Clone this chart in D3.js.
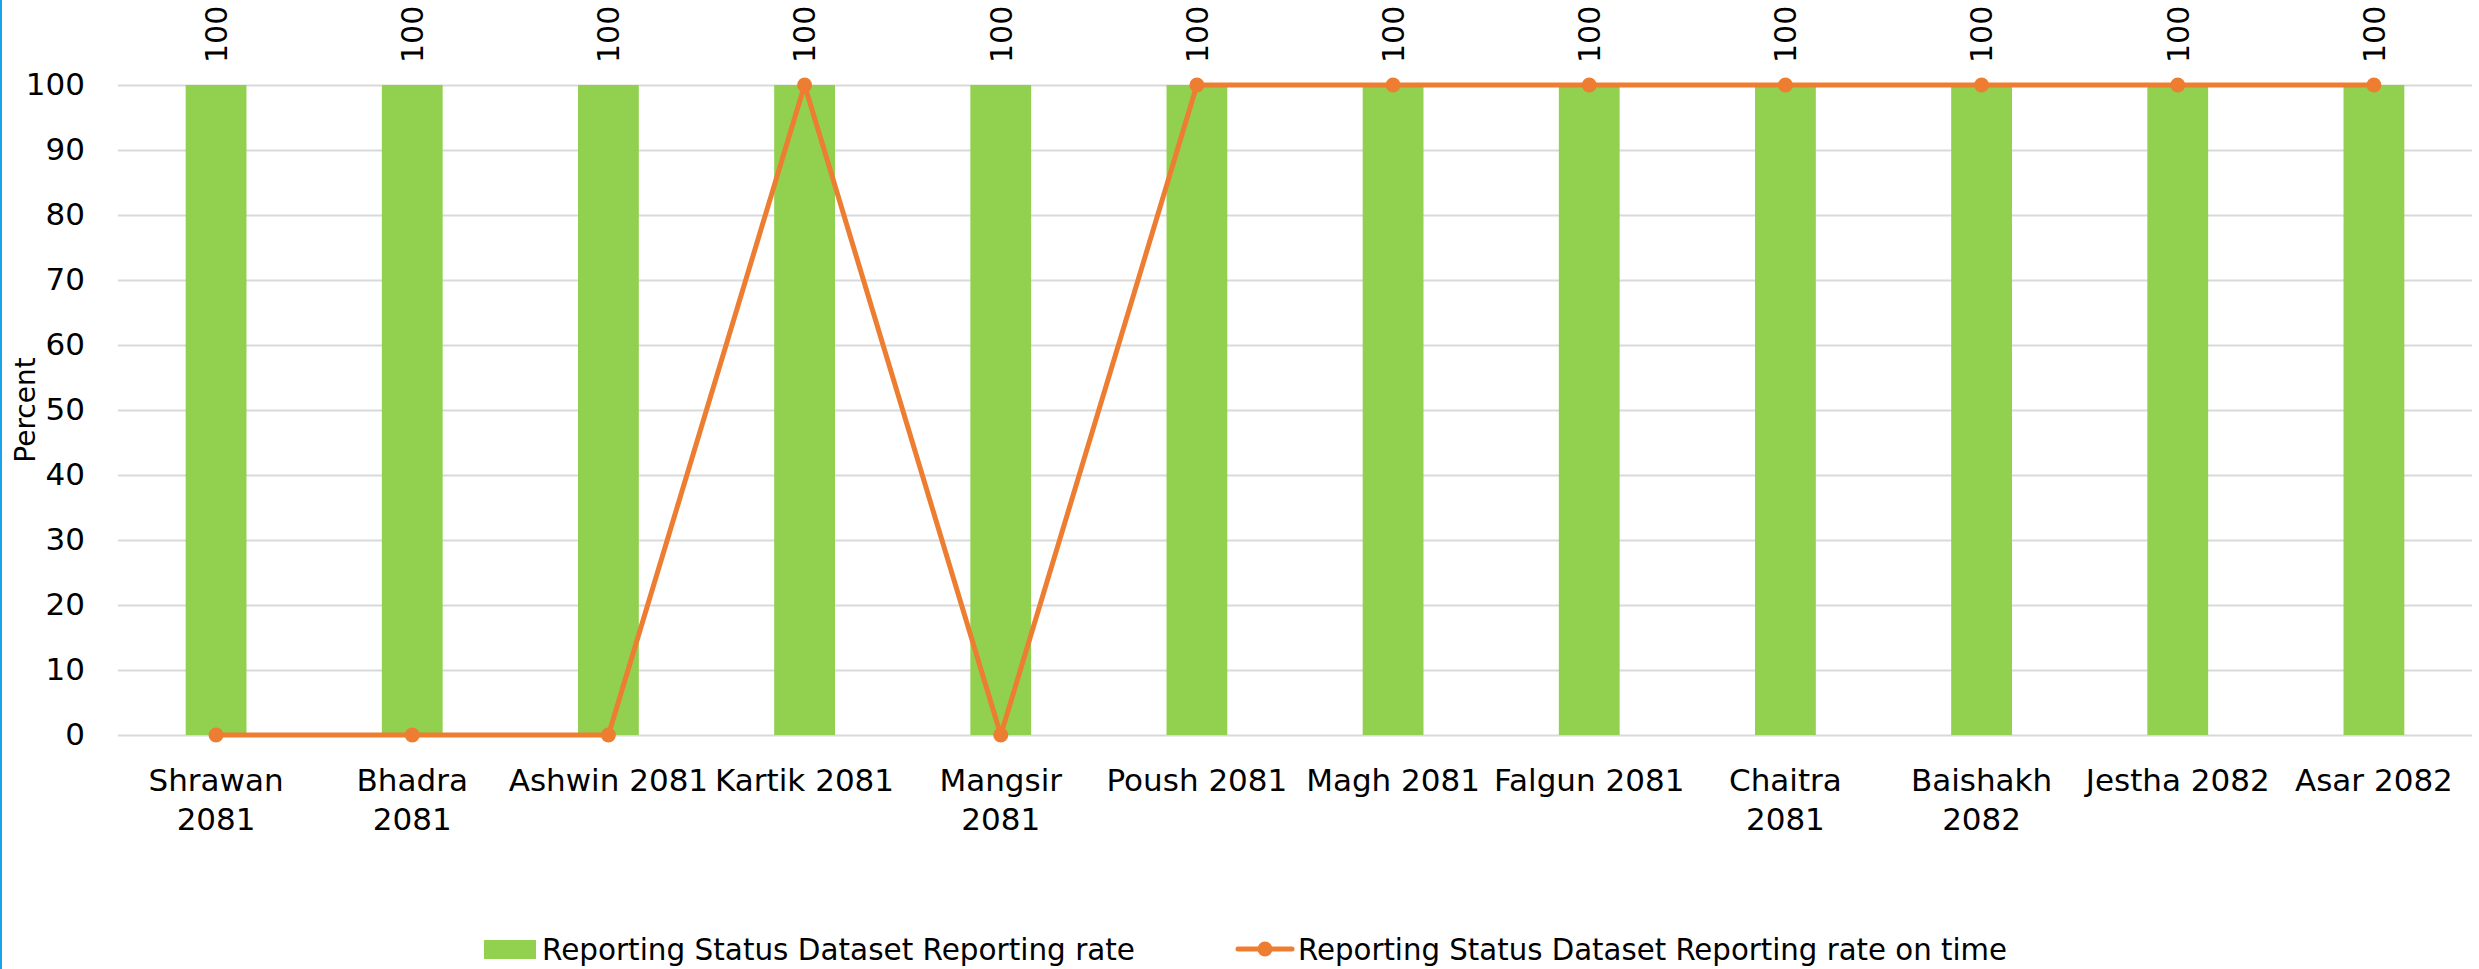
<!DOCTYPE html>
<html lang="en">
<head>
	<meta charset="UTF-8">
	<title>Reporting Status</title>
	<style>
		html, body { margin: 0; padding: 0; background: #fff; }
		svg text { font-family: "DejaVu Sans", sans-serif; fill: #000; }
	</style>
</head>
<body>
	<div id="chart"></div>

	<script src="https://cdn.jsdelivr.net/npm/d3@7"></script>
	<script>

	// chart data
	var categories = [
		"Shrawan\n2081", "Bhadra\n2081", "Ashwin 2081", "Kartik 2081",
		"Mangsir\n2081", "Poush 2081", "Magh 2081", "Falgun 2081",
		"Chaitra\n2081", "Baishakh\n2082", "Jestha 2082", "Asar 2082"
	];
	var reportingRate = [100, 100, 100, 100, 100, 100, 100, 100, 100, 100, 100, 100];
	var onTimeRate = [0, 0, 0, 100, 0, 100, 100, 100, 100, 100, 100, 100];
	var yTicks = [0, 10, 20, 30, 40, 50, 60, 70, 80, 90, 100];
	var seriesNames = ["Reporting Status Dataset Reporting rate",
		"Reporting Status Dataset Reporting rate on time"];

	var width = 2479, height = 969;
	var plot = { left: 118, right: 2472, top: 85, bottom: 735 };
	var barColor = "#92D050", lineColor = "#ED7D31";

	var svg = d3.select("#chart").append("svg")
		.attr("width", width)
		.attr("height", height);

	// thin blue frame edge on the left
	svg.append("rect")
		.attr("x", 0).attr("y", 0)
		.attr("width", 2).attr("height", height)
		.attr("fill", "#1AA3E8");

	var x = d3.scaleBand()
		.domain(d3.range(categories.length))
		.range([plot.left, plot.right])
		.paddingInner(0.69)
		.paddingOuter(0.345);

	var y = d3.scaleLinear()
		.domain([0, 100])
		.range([plot.bottom, plot.top]);

	function cx(i) { return x(i) + x.bandwidth() / 2; }

	// gridlines + y labels
	var yAxis = d3.axisLeft(y)
		.tickValues(yTicks)
		.tickSize(-(plot.right - plot.left))
		.tickPadding(33);

	var gy = svg.append("g")
		.attr("transform", "translate(" + plot.left + ",0)")
		.call(yAxis);
	gy.select(".domain").remove();
	gy.selectAll(".tick line")
		.attr("stroke", "#D9D9D9")
		.attr("stroke-width", 2);
	gy.selectAll(".tick text")
		.attr("font-size", 31)
		.attr("font-family", "DejaVu Sans")
		.attr("fill", "#000");

	svg.append("text")
		.attr("transform", "translate(35," + ((plot.top + plot.bottom) / 2) + ") rotate(-90)")
		.attr("text-anchor", "middle")
		.attr("font-size", 28)
		.text("Percent");

	// bars
	svg.append("g").selectAll("rect")
		.data(reportingRate)
		.join("rect")
		.attr("x", function(d, i) { return x(i); })
		.attr("y", function(d) { return y(d); })
		.attr("width", x.bandwidth())
		.attr("height", function(d) { return y(0) - y(d); })
		.attr("fill", barColor);

	// bar value labels, rotated
	svg.append("g").selectAll("text")
		.data(reportingRate)
		.join("text")
		.attr("transform", function(d, i) {
			return "translate(" + cx(i) + "," + y(d) + ") rotate(-90)";
		})
		.attr("x", 22)
		.attr("dy", "0.36em")
		.attr("font-size", 30)
		.text(function(d) { return d; });

	// on-time line
	var line = d3.line()
		.x(function(d, i) { return cx(i); })
		.y(function(d) { return y(d); });

	svg.append("path")
		.datum(onTimeRate)
		.attr("d", line)
		.attr("fill", "none")
		.attr("stroke", lineColor)
		.attr("stroke-width", 5)
		.attr("stroke-linejoin", "round");

	svg.append("g").selectAll("circle")
		.data(onTimeRate)
		.join("circle")
		.attr("cx", function(d, i) { return cx(i); })
		.attr("cy", function(d) { return y(d); })
		.attr("r", 7.5)
		.attr("fill", lineColor);

	// category labels, wrapped where the original wraps
	var xl = svg.append("g").selectAll("text")
		.data(categories)
		.join("text")
		.attr("x", function(d, i) { return cx(i); })
		.attr("y", 791)
		.attr("text-anchor", "middle")
		.attr("font-size", 31);
	xl.each(function(d) {
		var parts = d.split("\n");
		var t = d3.select(this);
		parts.forEach(function(p, k) {
			t.append("tspan")
				.attr("x", t.attr("x"))
				.attr("dy", k == 0 ? 0 : 39)
				.text(p);
		});
	});

	// legend
	var leg = svg.append("g");
	leg.append("rect")
		.attr("x", 484).attr("y", 940)
		.attr("width", 52).attr("height", 19)
		.attr("fill", barColor);
	leg.append("text")
		.attr("x", 542).attr("y", 960)
		.attr("font-size", 30)
		.attr("textLength", 593)
		.attr("lengthAdjust", "spacingAndGlyphs")
		.text(seriesNames[0]);

	leg.append("line")
		.attr("x1", 1238).attr("x2", 1292)
		.attr("y1", 949).attr("y2", 949)
		.attr("stroke", lineColor)
		.attr("stroke-width", 5)
		.attr("stroke-linecap", "round");
	leg.append("circle")
		.attr("cx", 1265).attr("cy", 949)
		.attr("r", 7.5)
		.attr("fill", lineColor);
	leg.append("text")
		.attr("x", 1298).attr("y", 960)
		.attr("font-size", 30)
		.attr("textLength", 709)
		.attr("lengthAdjust", "spacingAndGlyphs")
		.text(seriesNames[1]);

	</script>
</body>
</html>
